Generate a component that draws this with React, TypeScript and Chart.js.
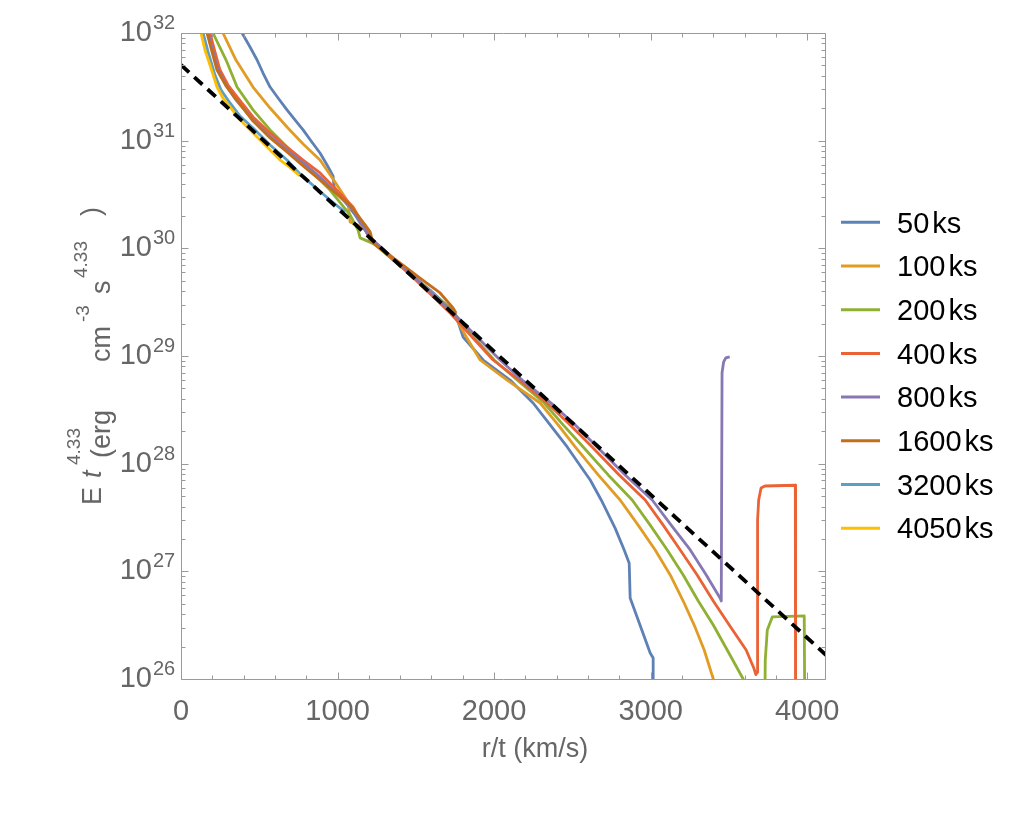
import React, { useEffect, useRef } from "react";
import { Chart, registerables } from "chart.js";

Chart.register(...registerables);

const FONT = '"Liberation Sans", Arial, Helvetica, sans-serif';

const seriesNames = ["50", "100", "200", "400", "800", "1600", "3200", "4050"];
const seriesColors = ["#5E81B5", "#E19C24", "#8FB032", "#EB6235", "#8778B3", "#C56E1A", "#5D9EC7", "#FFBF00"];

// 50 ks
const r50 = [390, 441, 486, 524, 569, 620, 677, 728, 780, 831, 888, 933, 971, 978, 1016, 1112, 1208, 1399, 1591, 1751, 1802, 1930, 2102, 2249, 2358, 2467, 2569, 2614, 2684, 2773, 2831, 2863, 2869, 2997, 3016, 3016];
const e50 = [1e32, 7.41e31, 5.61e31, 4.25e31, 3.15e31, 2.49e31, 1.93e31, 1.56e31, 1.26e31, 9.93e30, 7.68e30, 5.94e30, 4.7e30, 3.72e30, 3.13e30, 2.04e30, 1.25e30, 7.0e29, 4.1e29, 2.51e29, 1.5e29, 9.18e28, 5.98e28, 3.66e28, 2.29e28, 1.43e28, 8.73e27, 7.05e27, 4.6e27, 2.52e27, 1.58e27, 1.19e27, 5.65e26, 1.74e26, 1.57e26, 1e25];
// 100 ks
const r100 = [268, 351, 460, 569, 677, 780, 888, 984, 1067, 1080, 1176, 1233, 1399, 1591, 1738, 1815, 1911, 2083, 2294, 2409, 2518, 2665, 2805, 2920, 3029, 3125, 3208, 3278, 3342, 3400, 3420];
const e100 = [1e32, 5.61e31, 3.15e31, 2.01e31, 1.34e31, 9.31e30, 6.61e30, 4.13e30, 2.69e30, 1.76e30, 1.54e30, 1.12e30, 6.85e29, 4.02e29, 2.51e29, 1.57e29, 9.18e28, 5.98e28, 3.66e28, 2.29e28, 1.43e28, 7.86e27, 4.6e27, 2.69e27, 1.58e27, 9.25e26, 5.3e26, 3.17e26, 1.86e26, 1e26, 7e25];
// 200 ks
const r200 = [204, 288, 358, 460, 569, 677, 780, 952, 1080, 1131, 1144, 1233, 1399, 1591, 1738, 1847, 2000, 2147, 2320, 2441, 2569, 2729, 2882, 2997, 3106, 3208, 3304, 3400, 3489, 3591, 3600, 3725, 3732, 3745, 3777, 3981, 3987];
const e200 = [1e32, 5.61e31, 3.15e31, 1.93e31, 1.26e31, 8.73e30, 6.21e30, 3.48e30, 2.04e30, 1.48e30, 1.25e30, 1.1e30, 6.85e29, 4.02e29, 2.56e29, 1.64e29, 9.18e28, 5.98e28, 3.66e28, 2.29e28, 1.43e28, 7.86e27, 4.6e27, 2.69e27, 1.58e27, 9.25e26, 5.3e26, 3.17e26, 1.86e26, 1e26, 1e25, 1e25, 1.5e26, 2.85e26, 3.77e26, 3.85e26, 1e25];
// 400 ks
const r400 = [185, 217, 249, 300, 358, 460, 569, 677, 780, 888, 1099, 1176, 1208, 1399, 1719, 1994, 2160, 2339, 2486, 2626, 2799, 2965, 3080, 3189, 3297, 3400, 3502, 3610, 3660, 3672, 3680, 3683, 3690, 3705, 3730, 3924, 3926];
const e400 = [1e32, 6.67e31, 4.53e31, 3.29e31, 2.55e31, 1.66e31, 1.18e31, 8.73e30, 6.61e30, 5.01e30, 2.42e30, 1.54e30, 1.19e30, 7.0e29, 2.51e29, 9.18e28, 5.98e28, 3.66e28, 2.29e28, 1.43e28, 7.86e27, 4.6e27, 2.69e27, 1.58e27, 9.25e26, 5.3e26, 3.17e26, 1.86e26, 1.25e26, 1.1e26, 1.15e26, 3.0e27, 4.6e27, 5.94e27, 6.2e27, 6.3e27, 1e25];
// 800 ks
const r800 = [173, 204, 236, 294, 351, 460, 569, 677, 780, 888, 1099, 1208, 1399, 1719, 2038, 2179, 2364, 2518, 2658, 2837, 3010, 3131, 3253, 3355, 3445, 3451, 3456, 3466, 3480, 3505];
const e800 = [1e32, 6.67e31, 4.53e31, 3.15e31, 2.39e31, 1.56e31, 1.1e31, 8.19e30, 6.21e30, 4.6e30, 2.27e30, 1.25e30, 7.16e29, 2.67e29, 9.18e28, 5.98e28, 3.66e28, 2.29e28, 1.43e28, 7.86e27, 4.6e27, 2.69e27, 1.58e27, 9.25e26, 5.6e26, 5.3e26, 7.0e28, 8.8e28, 9.6e28, 9.8e28];
// 1600 ks
const r1600 = [166, 198, 230, 288, 345, 460, 569, 677, 780, 888, 1080, 1176, 1208, 1227, 1399, 1527, 1655, 1738, 1757];
const e1600 = [1e32, 6.67e31, 4.53e31, 3.22e31, 2.49e31, 1.52e31, 1.06e31, 7.85e30, 5.82e30, 4.31e30, 2.52e30, 1.65e30, 1.42e30, 1.12e30, 7.31e29, 5.3e29, 3.85e29, 2.79e29, 2.51e29];
// 3200 ks
const r3200 = [141, 173, 217, 256, 313, 377, 460, 569, 677, 760, 863, 952, 1048];
const e3200 = [1e32, 6.67e31, 4.07e31, 2.96e31, 2.24e31, 1.69e31, 1.31e31, 9.12e30, 6.61e30, 4.9e30, 3.63e30, 2.81e30, 2.17e30];
// 4050 ks
const r4050 = [128, 153, 185, 230, 268, 313, 377, 486, 569, 633, 684, 760];
const e4050 = [1e32, 6.95e31, 5.05e31, 3.15e31, 2.49e31, 2.06e31, 1.56e31, 1.08e31, 8.19e30, 6.61e30, 5.82e30, 4.7e30];

// power-law reference line
const dashR = [0, 4120];
const dashE = [5.05e31, 1.67e26];

const xMajorTicks = [0, 1000, 2000, 3000, 4000];
const xTickLabels = ["0", "1000", "2000", "3000", "4000"];
const yDecades = [26, 27, 28, 29, 30, 31, 32];

const seriesR = [r50, r100, r200, r400, r800, r1600, r3200, r4050];
const seriesE = [e50, e100, e200, e400, e800, e1600, e3200, e4050];

const GRAY = "#666666";
const FRAME = "#9a9a9a";

const decorPlugin = {
  id: "decor",
  afterDraw(chart: any) {
    const ctx: any = chart.ctx;
    const { left, right, top, bottom } = chart.chartArea;
    const xs = chart.scales.x;
    const ys = chart.scales.y;
    ctx.save();
    ctx.strokeStyle = FRAME;
    ctx.lineWidth = 1;
    const L = Math.round(left) + 0.5, R = Math.round(right) - 0.5, T = Math.round(top) + 0.5, B = Math.round(bottom) + 0.5;
    ctx.beginPath();
    ctx.moveTo(L, T); ctx.lineTo(R, T); ctx.lineTo(R, B); ctx.lineTo(L, B); ctx.closePath();
    ctx.stroke();
    ctx.beginPath();
    for (let v = 0; v <= xs.max; v += 200) {
      const px = Math.round(xs.getPixelForValue(v)) + 0.5;
      const len = xMajorTicks.includes(v) ? 7 : 4;
      ctx.moveTo(px, B); ctx.lineTo(px, B - len);
      ctx.moveTo(px, T); ctx.lineTo(px, T + len);
    }
    for (let d = yDecades[0]; d <= yDecades[yDecades.length - 1]; d++) {
      for (let m = 1; m <= 9; m++) {
        const v = m * Math.pow(10, d);
        if (v > ys.max * 1.0001) break;
        const py = Math.round(ys.getPixelForValue(v)) + 0.5;
        const len = m === 1 ? 7 : 4;
        ctx.moveTo(L, py); ctx.lineTo(L + len, py);
        ctx.moveTo(R, py); ctx.lineTo(R - len, py);
      }
    }
    ctx.stroke();

    ctx.fillStyle = GRAY;
    ctx.font = `29px ${FONT}`;
    ctx.textAlign = "center";
    ctx.textBaseline = "alphabetic";
    xMajorTicks.forEach((v, i) => {
      ctx.fillText(xTickLabels[i], xs.getPixelForValue(v), bottom + 41);
    });
    yDecades.forEach((d) => {
      const py = ys.getPixelForValue(Math.pow(10, d));
      ctx.font = `29px ${FONT}`;
      ctx.textAlign = "right";
      ctx.fillText("10", left - 29, py + 8);
      ctx.font = `20px ${FONT}`;
      ctx.textAlign = "left";
      ctx.fillText(String(d), left - 28, py - 4);
    });

    ctx.font = `27px ${FONT}`;
    ctx.textAlign = "center";
    ctx.fillText("r/t (km/s)", 535, 757);

    // y title, rotated pieces
    const pieces = [
      { t: "E", f: `27px ${FONT}`, bx: 101, y0: 505 },
      { t: "t", f: `italic 27px ${FONT}`, bx: 101, y0: 478 },
      { t: "4.33", f: `19px ${FONT}`, bx: 80, y0: 465 },
      { t: "(erg", f: `27px ${FONT}`, bx: 110, y0: 458 },
      { t: "cm", f: `27px ${FONT}`, bx: 110, y0: 362 },
      { t: "-3", f: `19px ${FONT}`, bx: 89, y0: 322 },
      { t: "s", f: `27px ${FONT}`, bx: 110, y0: 294 },
      { t: "4.33", f: `19px ${FONT}`, bx: 87, y0: 278 },
      { t: ")", f: `27px ${FONT}`, bx: 100, y0: 216 },
    ];
    ctx.textAlign = "left";
    pieces.forEach((p) => {
      ctx.save();
      ctx.font = p.f;
      ctx.translate(p.bx, p.y0);
      ctx.rotate(-Math.PI / 2);
      ctx.fillText(p.t, 0, 0);
      ctx.restore();
    });

    seriesNames.forEach((name, i) => {
      const y = 222.3 + i * 43.7;
      ctx.strokeStyle = seriesColors[i];
      ctx.lineWidth = 3;
      ctx.beginPath();
      ctx.moveTo(841, y); ctx.lineTo(880, y);
      ctx.stroke();
      ctx.fillStyle = "#000";
      ctx.font = `29px ${FONT}`;
      ctx.textAlign = "left";
      ctx.fillText(name, 897, y + 10.2);
      const w = ctx.measureText(name).width;
      ctx.fillText("ks", 897 + w + 3, y + 10.2);
    });
    ctx.restore();
  },
};

export default function App() {
  const ref = useRef<HTMLCanvasElement>(null);
  useEffect(() => {
    const canvas = ref.current!;
    const mk = (xs: number[], ys: number[]) => xs.map((x, i) => ({ x, y: ys[i] }));
    const datasets: any[] = seriesR.map((r, i) => ({
      label: seriesNames[i] + " ks",
      data: mk(r, seriesE[i]),
      borderColor: seriesColors[i],
      backgroundColor: seriesColors[i],
      borderWidth: 2.8,
      pointRadius: 0,
      tension: 0,
      fill: false,
      borderJoinStyle: "round",
      borderCapStyle: "butt",
      order: 9 - i,
    }));
    datasets.unshift({
      label: "fit",
      data: mk(dashR, dashE),
      borderColor: "#000",
      borderWidth: 3.8,
      borderDash: [11, 7],
      pointRadius: 0,
      fill: false,
      order: 0,
    });
    const chart = new Chart(canvas, {
      type: "line",
      data: { datasets },
      options: {
        responsive: false,
        animation: false,
        devicePixelRatio: 1,
        events: [],
        layout: { padding: { left: 181, right: 183, top: 33, bottom: 138 } },
        scales: {
          x: { type: "linear", min: 0, max: 4120, display: false },
          y: { type: "logarithmic", min: 1e26, max: 1e32, display: false },
        },
        plugins: { legend: { display: false }, tooltip: { enabled: false } },
      },
      plugins: [decorPlugin],
    } as any);
    return () => chart.destroy();
  }, []);
  return (
    <div style={{ position: "absolute", left: 0, top: 0, width: 1009, height: 817, background: "#fff" }}>
      <canvas ref={ref} width={1009} height={817} style={{ display: "block" }} />
    </div>
  );
}
